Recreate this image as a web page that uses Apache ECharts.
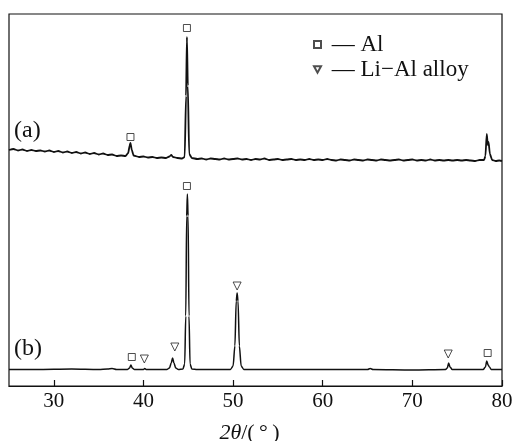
<!DOCTYPE html>
<html>
<head>
<meta charset="utf-8">
<script src="https://cdn.jsdelivr.net/npm/echarts@6/dist/echarts.min.js"></script>
<style>
  html, body { margin: 0; padding: 0; background: #fff; }
  #chart { width: 514px; height: 441px; }
</style>
</head>
<body>
<div id="chart"></div>
<script>
// XRD patterns of two samples, stacked on a shared intensity scale (a.u.)
const tickValues = [30, 40, 50, 60, 70, 80];

// pattern (a): [2θ, intensity]
const patternA = [
  [25.0, 236], [25.5, 237], [26.0, 235.5], [26.5, 236.5], [27.0, 235], [27.5, 236],
  [28.0, 235], [28.5, 235.5], [29.0, 234.5], [29.5, 235.5], [30.0, 234], [30.5, 235],
  [31.0, 233.5], [31.5, 234.5], [32.0, 233], [32.5, 234], [33.0, 232.5], [33.5, 233.5],
  [34.0, 232], [34.5, 233], [35.0, 231.5], [35.5, 232.5], [36.0, 231], [36.5, 231.5],
  [37.0, 230], [37.5, 230.5], [38.0, 230], [38.3, 233], [38.45, 240], [38.55, 243],
  [38.7, 236], [38.9, 230.5], [39.5, 229], [40.0, 229.5], [40.5, 228.5], [41.0, 229],
  [41.5, 228], [42.0, 228.5], [42.5, 228], [42.9, 229.5], [43.1, 231], [43.3, 229],
  [43.8, 228], [44.3, 227.5], [44.6, 229], [44.75, 290], [44.85, 349], [44.95, 300],
  [45.1, 232], [45.4, 228], [46.0, 227], [46.5, 227.5], [47.0, 226.5], [47.5, 227.5],
  [48.0, 227], [48.5, 226.5], [49.0, 227.5], [49.5, 226.5], [50.0, 227], [50.5, 227.5],
  [51.0, 226.5], [51.5, 227], [52.0, 226], [52.5, 227], [53.0, 226.5], [53.5, 227.5],
  [54.0, 226], [54.5, 226.5], [55.0, 227], [55.5, 226], [56.0, 226.5], [56.5, 227],
  [57.0, 226], [57.5, 226.5], [58.0, 226], [58.5, 227], [59.0, 226], [59.5, 226.5],
  [60.0, 226], [60.5, 227], [61.0, 226], [61.5, 225.5], [62.0, 226.5], [62.5, 226],
  [63.0, 225.5], [63.5, 226.5], [64.0, 226], [64.5, 225.5], [65.0, 226.5], [65.5, 226],
  [66.0, 225.5], [66.5, 226.5], [67.0, 226], [67.5, 225.5], [68.0, 226], [68.5, 226.5],
  [69.0, 225.5], [69.5, 226], [70.0, 226.5], [70.5, 225.5], [71.0, 226], [71.5, 225.5],
  [72.0, 226.5], [72.5, 225.5], [73.0, 226], [73.5, 225.5], [74.0, 226], [74.5, 225.5],
  [75.0, 226], [75.5, 225.5], [76.0, 226], [76.5, 225.5], [77.0, 225], [77.5, 226],
  [78.0, 226], [78.15, 230], [78.3, 252], [78.42, 241], [78.5, 244], [78.65, 232],
  [78.9, 226], [79.3, 225], [79.7, 225.5], [80.0, 225]
];

// pattern (b): [2θ, intensity]
const patternB = [
  [25.0, 16.5], [28.0, 16.5], [32.0, 17], [35.0, 16.5], [36.0, 17], [36.5, 17.5],
  [37.0, 16.5], [38.2, 16.5], [38.45, 18], [38.6, 21], [38.75, 18], [39.0, 16.5],
  [40.0, 16.5], [40.15, 17.5], [40.3, 16.5], [42.6, 16.5], [42.9, 18], [43.1, 23],
  [43.25, 28], [43.4, 23], [43.6, 18], [43.9, 16.5], [44.4, 17], [44.6, 22],
  [44.72, 70], [44.82, 170], [44.9, 192], [44.98, 170], [45.08, 70], [45.2, 22],
  [45.4, 17], [46.0, 16.5], [49.7, 16.5], [50.0, 20], [50.2, 40], [50.35, 85],
  [50.45, 93], [50.55, 85], [50.7, 40], [50.9, 20], [51.2, 16.5], [55.0, 16.5],
  [60.0, 16.5], [65.0, 16.5], [65.3, 17.5], [65.6, 16.5], [70.0, 16], [73.7, 16.5],
  [73.9, 18], [74.05, 23], [74.2, 19], [74.45, 16.5], [77.9, 16.5], [78.15, 19],
  [78.3, 25], [78.45, 21], [78.6, 19], [78.8, 16.5], [80.0, 16.5]
];

// phase markers placed above the indexed reflections
const alMarks = [[38.55, 249], [44.85, 358], [38.7, 29], [44.85, 200], [78.4, 33]];
const liAlMarks = [[40.1, 27], [43.5, 39], [50.45, 100], [74.0, 32]];

const serif = 'Liberation Serif';
const ink = '#111';
const downTriangle = 'path://M0,0 L10,0 L5,9 Z';

const chart = echarts.init(document.getElementById('chart'), null, { renderer: 'canvas' });

const markerStyle = { color: '#fff', borderColor: '#222', borderWidth: 1 };

chart.setOption({
  animation: false,
  backgroundColor: '#fff',
  grid: {
    left: 9, top: 14, width: 493, height: 372,
    outerBoundsMode: 'none', containLabel: false,
    show: true, borderColor: ink, borderWidth: 1.2, backgroundColor: 'transparent'
  },
  legend: {
    orient: 'vertical',
    left: 313, top: 33, padding: 0,
    itemWidth: 7, itemHeight: 7, itemGap: 2,
    data: [
      { name: 'Al', icon: 'rect' },
      { name: 'Li\u2212Al alloy', icon: downTriangle }
    ],
    formatter: (name) => ' \u2014 ' + name,
    textStyle: { fontFamily: serif, fontSize: 23, color: ink }
  },
  xAxis: {
    type: 'value', min: 25, max: 80,
    name: '{i|2\u03b8}{n|/(\u2009\u00b0\u2009)}',
    nameLocation: 'middle', nameGap: 36,
    nameTextStyle: {
      padding: [0, 12, 0, 0],
      rich: {
        n: { fontFamily: serif, fontSize: 22, color: ink },
        i: { fontFamily: serif, fontSize: 22, fontStyle: 'italic', color: ink }
      }
    },
    axisLine: { show: true, lineStyle: { color: ink, width: 1.2 } },
    axisTick: { show: true, inside: true, length: 6, customValues: tickValues, lineStyle: { color: ink, width: 1.2 } },
    axisLabel: { customValues: tickValues, margin: 5, fontFamily: serif, fontSize: 21, color: ink },
    splitLine: { show: false }
  },
  yAxis: {
    type: 'value', min: 0, max: 372, show: false
  },
  graphic: [
    { type: 'text', left: 14, top: 119, style: { text: '(a)', fontFamily: serif, fontSize: 24, fill: ink } },
    { type: 'text', left: 14, top: 337, style: { text: '(b)', fontFamily: serif, fontSize: 24, fill: ink } }
  ],
  series: [
    {
      type: 'line', data: patternA, showSymbol: false, smooth: 0.2, smoothMonotone: 'x',
      lineStyle: { color: ink, width: 1.8 }, silent: true, legendHoverLink: false
    },
    {
      type: 'line', data: patternB, showSymbol: false, smooth: 0.3, smoothMonotone: 'x',
      lineStyle: { color: ink, width: 1.5 }, silent: true, legendHoverLink: false
    },
    {
      name: 'Al', type: 'scatter', data: alMarks,
      symbol: 'rect', symbolSize: 7, itemStyle: markerStyle
    },
    {
      name: 'Li\u2212Al alloy', type: 'scatter', data: liAlMarks,
      symbol: 'triangle', symbolRotate: 180, symbolSize: 8, itemStyle: markerStyle
    }
  ]
});
</script>
</body>
</html>
